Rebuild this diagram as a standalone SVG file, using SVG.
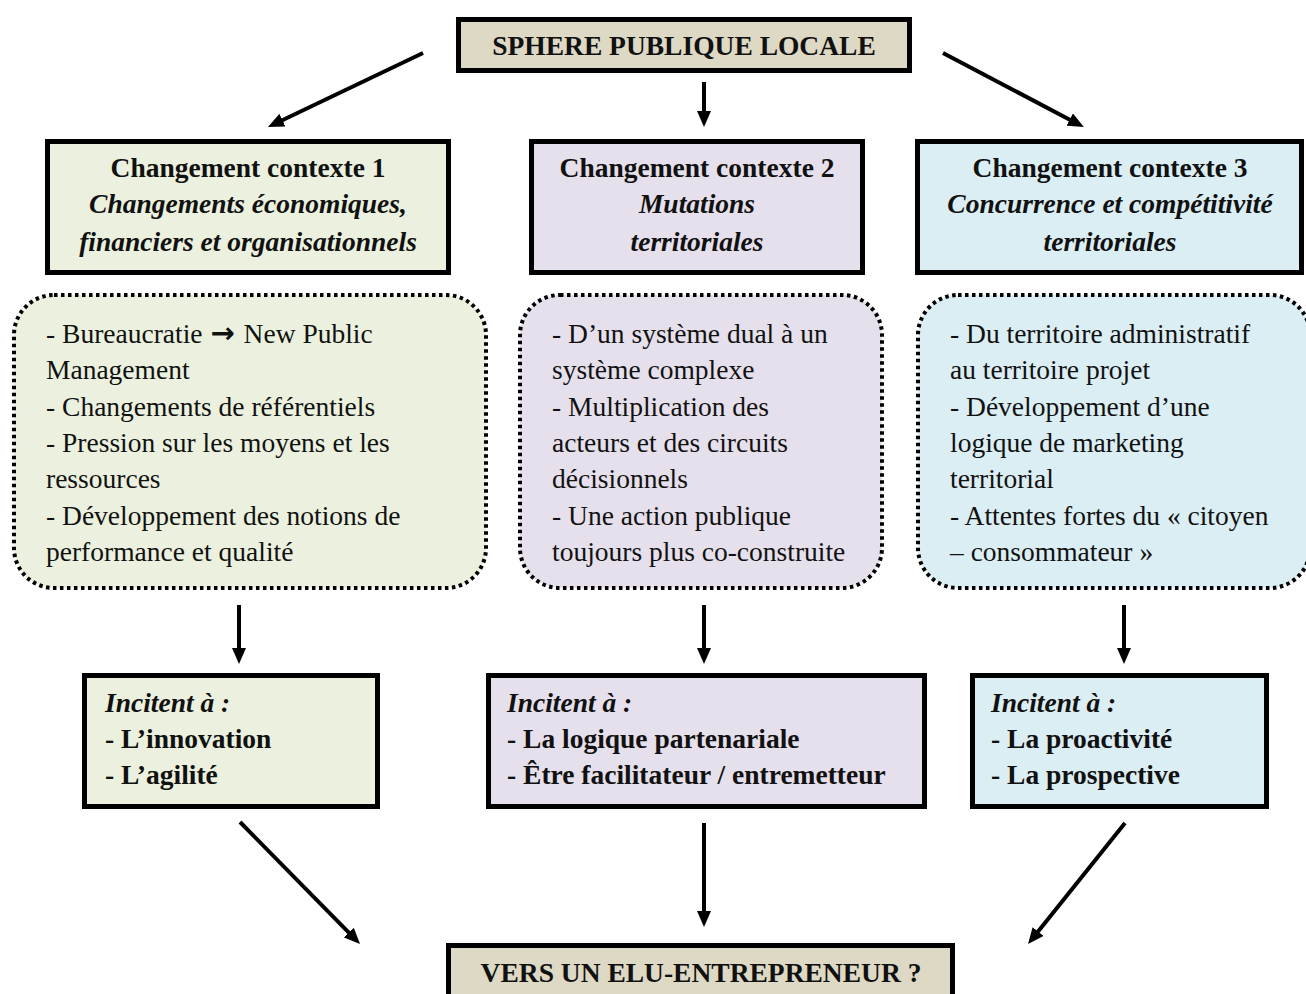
<svg xmlns="http://www.w3.org/2000/svg" width="1306" height="994" viewBox="0 0 1306 994">
<style>
  .box { stroke: #000; stroke-width: 5; }
  .dot { stroke: #000; stroke-width: 4; stroke-dasharray: 3.5 3.5; }
  .tan { fill: #DDD9C4; }
  .green { fill: #EBF1DE; }
  .lav { fill: #E5E0EC; }
  .blue { fill: #DBEEF4; }
  text { font-family: "Liberation Serif", "Times New Roman", serif; fill: #111; font-size: 27.5px; }
  .b { font-weight: bold; }
  .bi { font-weight: bold; font-style: italic; }
  .c { text-anchor: middle; }
  .arr { font-family: "DejaVu Sans", sans-serif; font-weight: bold; font-size: 29px; }
  .conn { stroke: #000; stroke-width: 4; fill: none; marker-end: url(#ah); }
</style>
<defs>
  <marker id="ah" markerUnits="userSpaceOnUse" markerWidth="16" markerHeight="14" viewBox="0 0 16 14" refX="6" refY="7" orient="auto">
    <path d="M0,0 L16,7 L0,14 z" fill="#000"/>
  </marker>
</defs>
<rect width="1306" height="994" fill="#fff"/>

<g id="sphere">
  <rect class="box tan" x="458.5" y="19.5" width="451" height="51"/>
  <text class="b c" x="684" y="55">SPHERE PUBLIQUE LOCALE</text>
</g>

<g id="ctx1">
  <rect class="box green" x="47.5" y="141.5" width="401" height="131"/>
  <text class="b c" x="248" y="177">Changement contexte 1</text>
  <text class="bi c" x="248" y="213">Changements économiques,</text>
  <text class="bi c" x="248" y="251">financiers et organisationnels</text>
</g>
<g id="ctx2">
  <rect class="box lav" x="531.5" y="141.5" width="331" height="131"/>
  <text class="b c" x="697" y="177">Changement contexte 2</text>
  <text class="bi c" x="697" y="213">Mutations</text>
  <text class="bi c" x="697" y="251">territoriales</text>
</g>
<g id="ctx3">
  <rect class="box blue" x="917.5" y="141.5" width="384" height="131"/>
  <text class="b c" x="1110" y="177">Changement contexte 3</text>
  <text class="bi c" x="1110" y="213">Concurrence et compétitivité</text>
  <text class="bi c" x="1110" y="251">territoriales</text>
</g>

<g id="detail1">
  <rect class="dot green" x="14" y="295" width="472" height="293" rx="40" ry="40"/>
  <text x="46" y="343">- Bureaucratie <tspan class="arr" dx="1">→</tspan><tspan dx="2"> New Public</tspan></text>
  <text x="46" y="379">Management</text>
  <text x="46" y="416">- Changements de référentiels</text>
  <text x="46" y="452">- Pression sur les moyens et les</text>
  <text x="46" y="488">ressources</text>
  <text x="46" y="525">- Développement des notions de</text>
  <text x="46" y="561">performance et qualité</text>
</g>
<g id="detail2">
  <rect class="dot lav" x="520" y="295" width="362" height="293" rx="40" ry="40"/>
  <text x="552" y="343">- D’un système dual à un</text>
  <text x="552" y="379">système complexe</text>
  <text x="552" y="416">- Multiplication des</text>
  <text x="552" y="452">acteurs et des circuits</text>
  <text x="552" y="488">décisionnels</text>
  <text x="552" y="525">- Une action publique</text>
  <text x="552" y="561">toujours plus co-construite</text>
</g>
<g id="detail3">
  <rect class="dot blue" x="918" y="295" width="392" height="293" rx="40" ry="40"/>
  <text x="950" y="343">- Du territoire administratif</text>
  <text x="950" y="379">au territoire projet</text>
  <text x="950" y="416">- Développement d’une</text>
  <text x="950" y="452">logique de marketing</text>
  <text x="950" y="488">territorial</text>
  <text x="950" y="525">- Attentes fortes du « citoyen</text>
  <text x="950" y="561">– consommateur »</text>
</g>

<g id="incite1">
  <rect class="box green" x="84.5" y="675.5" width="293" height="131"/>
  <text class="bi" x="105" y="712">Incitent à :</text>
  <text class="b" x="105" y="748">- L’innovation</text>
  <text class="b" x="105" y="784">- L’agilité</text>
</g>
<g id="incite2">
  <rect class="box lav" x="488.5" y="675.5" width="436" height="131"/>
  <text class="bi" x="507" y="712">Incitent à :</text>
  <text class="b" x="507" y="748">- La logique partenariale</text>
  <text class="b" x="507" y="784">- Être facilitateur / entremetteur</text>
</g>
<g id="incite3">
  <rect class="box blue" x="972.5" y="675.5" width="294" height="131"/>
  <text class="bi" x="991" y="712">Incitent à :</text>
  <text class="b" x="991" y="748">- La proactivité</text>
  <text class="b" x="991" y="784">- La prospective</text>
</g>

<g id="elu">
  <rect class="box tan" x="448.5" y="945.5" width="504" height="60"/>
  <text class="b c" x="701" y="982">VERS UN ELU-ENTREPRENEUR ?</text>
</g>

<g id="connectors">
  <line class="conn" x1="423" y1="53" x2="277" y2="122.7"/>
  <line class="conn" x1="704" y1="82" x2="704" y2="117"/>
  <line class="conn" x1="943" y1="53" x2="1075" y2="122.4"/>
  <line class="conn" x1="239" y1="605" x2="239" y2="654"/>
  <line class="conn" x1="704" y1="605" x2="704" y2="654"/>
  <line class="conn" x1="1124" y1="605" x2="1124" y2="654"/>
  <line class="conn" x1="240" y1="822" x2="353" y2="936.9"/>
  <line class="conn" x1="704" y1="823" x2="704" y2="917"/>
  <line class="conn" x1="1125" y1="823" x2="1034.3" y2="936.2"/>
</g>
</svg>
